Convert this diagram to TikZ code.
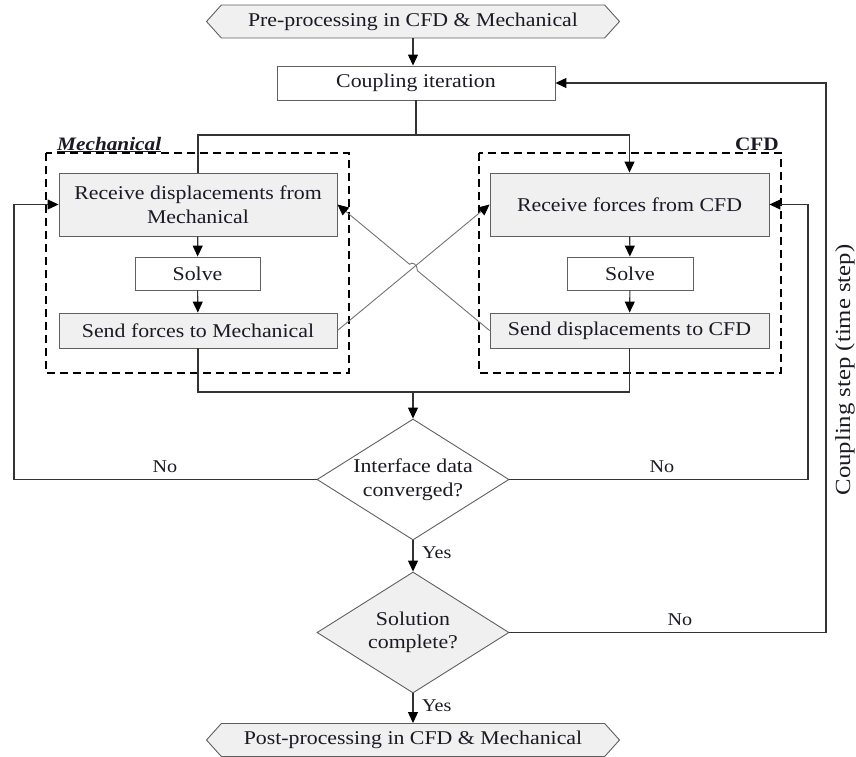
\documentclass[tikz,border=0pt]{standalone}
\usepackage{fontspec}
\setmainfont[FakeStretch=1.12]{Liberation Serif}
\newfontfamily\sidefont[FakeStretch=1.15]{Liberation Serif}
\usetikzlibrary{shapes.geometric,shapes.symbols,arrows.meta,calc}
\definecolor{boxfill}{HTML}{F0F0F0}
\definecolor{boxline}{HTML}{606060}
\definecolor{conn}{HTML}{333333}
\definecolor{txt}{HTML}{1A1A24}
\begin{document}
\begin{tikzpicture}[x=1pt,y=-1pt,
  every node/.style={text=txt, font=\fontsize{19.5}{23.5}\selectfont},
  box/.style={draw=boxline, line width=0.9pt, rectangle, inner sep=0pt, align=center},
  gbox/.style={box, fill=boxfill},
  hexa/.style={draw=boxline, line width=0.9pt, signal, signal to=west and east, signal pointer angle=96, minimum width=413pt, minimum height=33pt, inner sep=0pt},
  dia/.style={draw=boxline, line width=0.9pt, diamond, minimum width=192pt, minimum height=121pt, inner sep=0pt, aspect=1.59},
  frame/.style={draw=black, line width=1.3pt, dash pattern=on 8pt off 5pt},
  conline/.style={draw=conn, line width=1.1pt},
  arr/.style={conline, -{Triangle[length=11pt,width=10pt,color=black]}},
  crossarr/.style={draw=gray!90!black, line width=0.9pt, -{Triangle[length=11pt,width=10pt,color=black]}},
  lab/.style={font=\fontsize{18}{20}\selectfont, inner sep=0pt}
]
\useasboundingbox (0,0) rectangle (856,757);

% frames
\draw[frame] (46,153) rectangle (349,373);
\draw[frame] (479,153) rectangle (781,373);
\node[anchor=base west, inner sep=0pt, font=\fontsize{19}{22}\selectfont\bfseries\itshape] (mechlab) at (57,150) {\underline{Mechanical}};
\node[anchor=base east, inner sep=0pt, font=\fontsize{19}{22}\selectfont\bfseries] (cfdlab) at (779,150) {CFD};

% nodes
\node[hexa, fill=boxfill] (pre) at (413,21.5) {Pre-processing in CFD \& Mechanical};
\node[box, fill=white, minimum width=278pt, minimum height=34pt] (coup) at (416,83) {Coupling iteration};
\node[gbox, minimum width=278pt, minimum height=63pt] (rdm) at (198,204.5) {Receive displacements from\\Mechanical};
\node[box, fill=white, minimum width=125pt, minimum height=33pt] (solL) at (197.5,273.5) {Solve};
\node[gbox, minimum width=278pt, minimum height=35pt] (sfm) at (198,330.5) {Send forces to Mechanical};
\node[gbox, minimum width=279pt, minimum height=63pt] (rfc) at (629.5,204.5) {Receive forces from CFD};
\node[box, fill=white, minimum width=126pt, minimum height=33pt] (solR) at (630,273.5) {Solve};
\node[gbox, minimum width=279pt, minimum height=35pt] (sdc) at (629.5,330.5) {Send displacements to CFD};
\node[dia, fill=white, label={[align=center]center:Interface data\\converged?}] (d1) at (413,479.5) {};
\node[dia, fill=boxfill, label={[align=center]center:Solution\\complete?}] (d2) at (413,632.5) {};
\node[hexa, fill=boxfill] (post) at (413,740) {Post-processing in CFD \& Mechanical};

% helper coordinates
\coordinate (topsplit) at (416,135);
\coordinate (botjoin) at (413,392);
\coordinate (hopA) at (417.4,270.7);
\coordinate (hopB) at (409.6,264.3);

% connectors
\draw[arr] (pre.south) -- (pre.south |- coup.north);
\draw[conline] (coup.south) -- (topsplit);
\draw[conline] (topsplit) -| (rdm.north);
\draw[arr] (topsplit) -| (rfc.north);
\draw[arr] (rdm) -- (solL);
\draw[arr] (solL) -- (sfm);
\draw[arr] (rfc) -- (solR);
\draw[arr] (solR) -- (sdc);
\draw[crossarr] (sfm.east) -- (rfc.west);
\draw[crossarr] (sdc.west) -- (hopA) .. controls (417.5,264) and (412,261.5) .. (hopB) -- (rdm.east);
\draw[conline] (sfm.south) |- (botjoin) -| (sdc.south);
\draw[arr] (botjoin) -- (d1.north);
\draw[arr] (d1.west) -- (14,479.5) |- (rdm.west);
\draw[arr] (d1.east) -- (808,479.5) |- (rfc.east);
\draw[arr] (d1.south) -- (d2.north);
\draw[arr] (d2.east) -- (826,632.5) |- (coup.east);
\draw[arr] (d2.south) -- (post.north);

% labels
\node[lab] (no1) at (165,467) {No};
\node[lab] (no2) at (662,467) {No};
\node[lab] (no3) at (680,620) {No};
\node[lab, anchor=west] (yes1) at (422,553) {Yes};
\node[lab, anchor=west] (yes2) at (422,706) {Yes};
\node[rotate=90, inner sep=0pt, font=\sidefont\fontsize{21.5}{23}\selectfont] (cstep) at (845,370) {Coupling step (time step)};
\end{tikzpicture}
\end{document}
